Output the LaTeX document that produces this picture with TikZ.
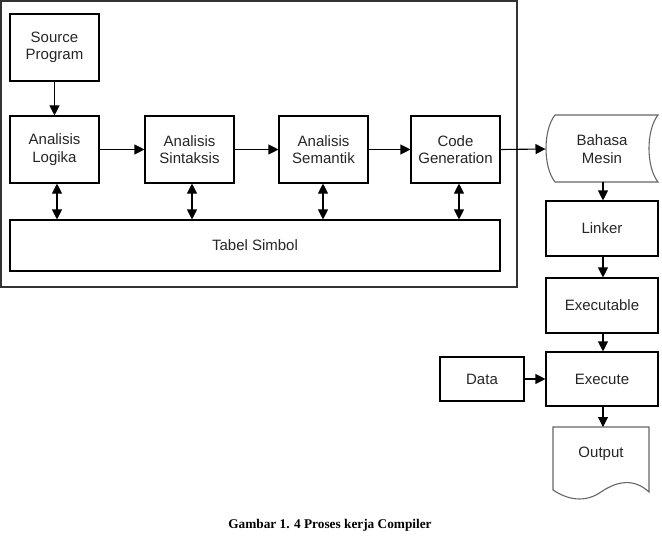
\documentclass[tikz,border=0pt]{standalone}
\usepackage{fontspec}
\setmainfont{Liberation Sans}
\newfontfamily\capfont{Liberation Serif}
\usetikzlibrary{arrows.meta}
\begin{document}
\begin{tikzpicture}[x=1pt,y=-1pt,
  box/.style={draw=black,line width=1.1pt,fill=white,inner sep=0pt,align=center,
    font=\fontsize{15}{17.5}\selectfont,text=black!85},
  lbl/.style={inner sep=0pt,align=center,font=\fontsize{15}{17.5}\selectfont,text=black!85},
  arr/.style={line width=1.1pt,-{Triangle[length=10pt,width=10pt]}},
  biarr/.style={line width=1.1pt,{Triangle[length=10pt,width=10pt]}-{Triangle[length=10pt,width=10pt]}},
  soft/.style={draw=black!60,line width=1.1pt,fill=white}]
\useasboundingbox (0,0) rectangle (662,543);
% outer frame
\draw[draw=black!80,line width=1.5pt] (0.75,1) rectangle (517,287);
% main boxes
\node[box,minimum width=89pt,minimum height=67pt] (src) at (54.5,47.5) {Source\\Program};
\node[box,minimum width=89pt,minimum height=67pt] (log) at (54.5,149.5) {Analisis\\Logika};
\node[box,minimum width=89pt,minimum height=67pt] (sin) at (189.5,149.5) {Analisis\\Sintaksis};
\node[box,minimum width=89pt,minimum height=67pt] (sem) at (323.5,149.5) {Analisis\\Semantik};
\node[box,minimum width=89pt,minimum height=67pt] (cg) at (455.5,149.5) {Code\\Generation};
\node[box,minimum width=490pt,minimum height=51pt] (tab) at (255,245.5) {Tabel Simbol};
% Bahasa Mesin (stored data shape)
\draw[soft] (555,115) -- (658,115) .. controls (646,130) and (646,167) .. (658,182)
  -- (555,182) .. controls (543,167) and (543,130) .. (555,115) -- cycle;
\node[lbl] (bm) at (602,149) {Bahasa\\Mesin};
\coordinate (bmL) at (545.5,149);
\coordinate (bmB) at (603,182);
% right column
\node[box,minimum width=112pt,minimum height=55pt] (lnk) at (602,228.5) {Linker};
\node[box,minimum width=112pt,minimum height=55pt] (exe) at (602,305.5) {Executable};
\node[box,minimum width=112pt,minimum height=54pt] (run) at (602,379) {Execute};
\node[box,minimum width=84pt,minimum height=44pt] (data) at (482,379) {Data};
% Output (document shape)
\draw[soft] (553,490) -- (553,427) -- (649,427) -- (649,492)
  .. controls (634,478) and (617,481) .. (601,492)
  .. controls (585,503) and (568,500) .. (553,490) -- cycle;
\node[lbl] (out) at (601,454) {Output};
\coordinate (outT) at (601,427);
% connectors
\draw[arr] (src) -- (log);
\draw[arr] (log) -- (sin);
\draw[arr] (sin) -- (sem);
\draw[arr] (sem) -- (cg);
\draw[arr] (cg.east) -- (bmL);
\draw[biarr] (log.south -| 57,0) -- (tab.north -| 57,0);
\draw[biarr] (sin.south -| 192,0) -- (tab.north -| 192,0);
\draw[biarr] (sem.south -| 323,0) -- (tab.north -| 323,0);
\draw[biarr] (cg.south -| 459,0) -- (tab.north -| 459,0);
\draw[arr] (bmB) -- (lnk.north -| bmB);
\draw[arr] (lnk.south -| bmB) -- (exe.north -| bmB);
\draw[arr] (exe.south -| bmB) -- (run.north -| bmB);
\draw[arr] (run.south -| bmB) -- (outT -| bmB);
\draw[arr] (data) -- (run);
% caption
\node[inner sep=0pt,font=\capfont\bfseries\fontsize{13.3}{15}\selectfont] (cap) at (330,525) {Gambar 1. 4 Proses kerja Compiler};
\end{tikzpicture}
\end{document}
